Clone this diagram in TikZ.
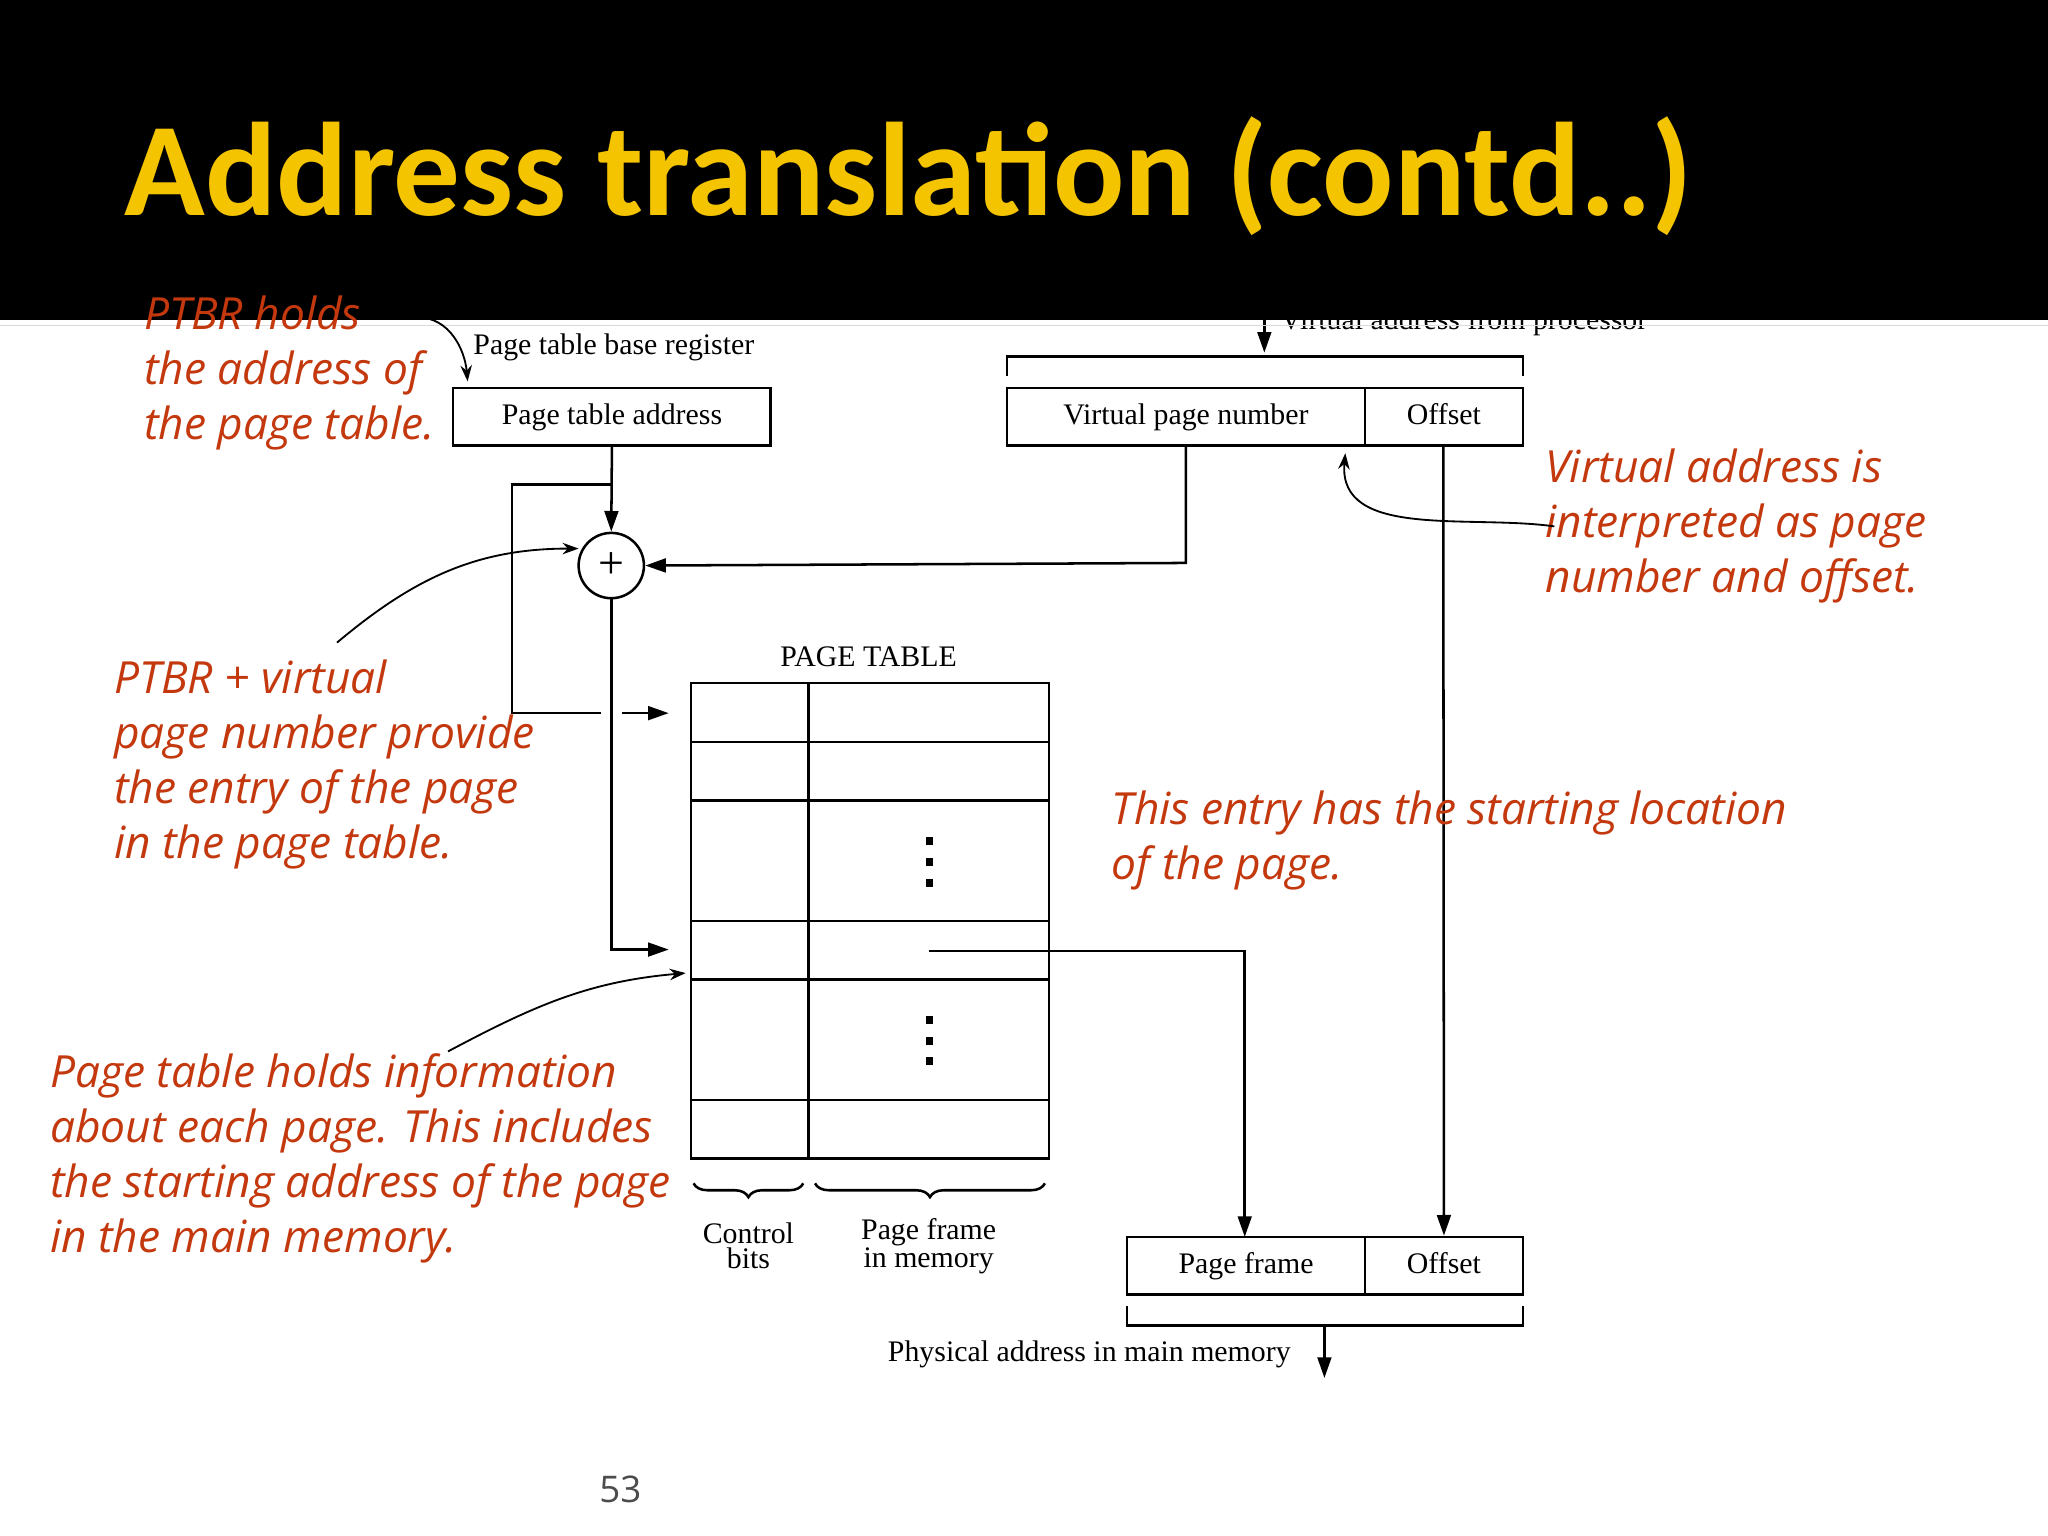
\documentclass[tikz,border=0pt]{standalone}
\usepackage{fontspec}
\setmainfont{Liberation Serif}
\newfontfamily\annfont{Open Sans}
\newfontfamily\titlefont{Carlito}
\usetikzlibrary{arrows.meta,decorations.pathreplacing}
\definecolor{ann}{HTML}{C4380E}
\definecolor{gold}{HTML}{F5C400}
\tikzset{
 x=0.02cm,y=-0.02cm,
 box/.style={draw,line width=1.1pt,inner sep=0,text height=9pt,text depth=2pt},
 ln/.style={line width=1.1pt},
 arr/.style={ln,-{Triangle[length=9pt,width=6pt]}},
 dtext/.style={font=\fontsize{13}{14}\selectfont,inner sep=0},
 anntext/.style={font=\annfont\itshape\fontsize{19.3}{24}\selectfont,text=ann,align=left,inner sep=0,anchor=north west},
 annarr/.style={line width=0.8pt,-{Stealth[length=7pt,width=5pt]}},
}
\begin{document}
\begin{tikzpicture}
\useasboundingbox (0,0) rectangle (1568,1176);
\fill[white] (0,0) rectangle (1568,1176);
% top cut text
\node[dtext,anchor=base west] (vap) at (980,252) {Virtual address from processor};
\draw[arr] (968,235) coordinate (vatop) -- (968,270) coordinate (vabot);
\fill[black] (0,0) rectangle (1568,245);
\draw[gray!30,line width=0.6pt] (0,249) -- (1568,249);
\node[font=\titlefont\bfseries\fontsize{58}{60}\selectfont,text=gold,anchor=base west,inner sep=0] (title) at (95,165) {Address translation (contd..)};
% PTBR
\node[dtext] (ptbrl) at (470,266) {Page table base register};
\node[box,minimum width=243*0.02cm,minimum height=44*0.02cm,dtext,draw] (pta) at (468.5,319) {Page table address};
% VA
\node[box,minimum width=274*0.02cm,minimum height=44*0.02cm,dtext,draw] (vpn) at (908,319) {Virtual page number};
\node[box,minimum width=121*0.02cm,minimum height=44*0.02cm,dtext,draw] (voff) at (1105.5,319) {Offset};
\draw[ln] (771,288) -- (771,273) -- (1166,273) -- (1166,288);
% adder
\node[draw,circle,line width=1.1pt,minimum size=50*0.02cm,inner sep=0,font=\fontsize{20}{20}\selectfont] (add) at (468,433) {+};
\draw[arr] (pta.south) -- (add.north);
\draw[arr] (908,341) -- (908,431) -- (add.east);
\coordinate (rowin) at (512,727);
\draw[arr] (add.south) -- (468,727) -- (rowin);
\draw[ln] (468,371) -- (392,371) -- (392,546) -- (460,546);
\draw[arr] (476,546) -- (512,546);
% page table
\node[dtext] (ptt) at (665,503) {PAGE TABLE};
\draw[ln] (529,523) rectangle (803,887);
\draw[ln] (619,523) -- (619,887);
\foreach \y in {568,613,705,750,842} \draw[ln] (529,\y) -- (803,\y);
\foreach \y in {644,660,676,781,797,812} \fill (709,\y-3) rectangle (714,\y+3);
% physical address
\node[box,minimum width=182*0.02cm,minimum height=44*0.02cm,dtext,draw] (pf) at (954,969) {Page frame};
\node[box,minimum width=121*0.02cm,minimum height=44*0.02cm,dtext,draw] (poff) at (1105.5,969) {Offset};
\draw[arr] (711,728) -- (953,728) -- (953,947);
\draw[arr] (1105,341) -- (poff.north);
\draw[ln] (863,1000) -- (863,1015) -- (1166,1015) -- (1166,1000);
\draw[arr] (1014,1015) -- (1014,1055) coordinate (paout);
\node[dtext] (pal) at (834,1037) {Physical address in main memory};
% braces
\draw[ln,decorate,decoration={brace,mirror,amplitude=6pt}] (531,906) -- (615,906);
\draw[ln,decorate,decoration={brace,mirror,amplitude=6pt}] (624,906) -- (800,906);
\node[dtext,align=center,font=\fontsize{13}{11}\selectfont] (cb) at (573,954) {Control\\bits};
\node[dtext,align=center,font=\fontsize{13}{11}\selectfont] (pfm) at (711,954) {Page frame\\in memory};
% annotations
\node[anntext] (a1) at (110,226) {PTBR holds\\the address of\\the page table.};
\draw[annarr] (320,243) to[out=0,in=95] (358,292);
\node[anntext] (a2) at (1183,343) {Virtual address is\\interpreted as page\\number and offset.};
\draw[annarr] (1190,403) to[out=172,in=-95] (1030,347);
\node[anntext] (a3) at (87,505) {PTBR + virtual\\page number provide\\the entry of the page\\in the page table.};
\draw[annarr] (258,492) to[out=40,in=180] (443,420);
\node[anntext] (a4) at (851,605) {This entry has the starting location\\of the page.};
\node[anntext] (a5) at (38,806) {Page table holds information\\about each page. This includes\\the starting address of the page\\in the main memory.};
\draw[annarr] (343,805) to[out=28,in=185] (525,745);
\node[font=\annfont\fontsize{16}{16}\selectfont,text=black!70] (pn) at (475,1140) {53};
\end{tikzpicture}
\end{document}
